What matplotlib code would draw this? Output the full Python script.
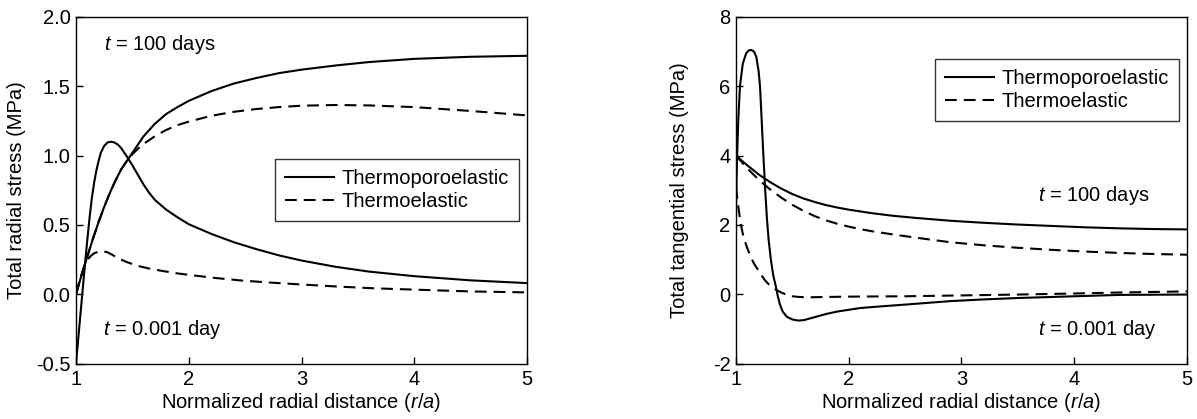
import matplotlib
matplotlib.use("Agg")
import matplotlib.pyplot as plt

plt.rcParams['font.family'] = ['Liberation Sans', 'DejaVu Sans']
plt.rcParams['mathtext.fontset'] = 'custom'
plt.rcParams['mathtext.rm'] = 'Liberation Sans'
plt.rcParams['mathtext.it'] = 'Liberation Sans:italic'
plt.rcParams['axes.unicode_minus'] = False
plt.rcParams['lines.scale_dashes'] = False

# ---------------- Data: radial stress (left panel) ----------------
r_tpe100 = [1.0, 1.05, 1.1, 1.15, 1.2, 1.25, 1.3, 1.35, 1.4, 1.45, 1.5, 1.6, 1.7, 1.8, 1.9, 2.0, 2.2, 2.4, 2.6, 2.8, 3.0, 3.3, 3.6, 4.0, 4.5, 5.0]
s_tpe100 = [0.0, 0.14, 0.27, 0.40, 0.52, 0.63, 0.73, 0.82, 0.90, 0.96, 1.02, 1.14, 1.23, 1.30, 1.35, 1.395, 1.465, 1.52, 1.56, 1.595, 1.62, 1.65, 1.675, 1.698, 1.713, 1.72]

r_te100 = [1.0, 1.05, 1.1, 1.15, 1.2, 1.25, 1.3, 1.35, 1.4, 1.45, 1.5, 1.55, 1.6, 1.7, 1.8, 1.9, 2.0, 2.2, 2.4, 2.6, 2.8, 3.0, 3.3, 3.6, 4.0, 4.5, 5.0]
s_te100 = [0.0, 0.14, 0.27, 0.40, 0.52, 0.63, 0.73, 0.82, 0.90, 0.96, 1.01, 1.05, 1.085, 1.14, 1.185, 1.22, 1.245, 1.287, 1.316, 1.336, 1.35, 1.36, 1.365, 1.362, 1.35, 1.322, 1.29]

r_tpe001 = [1.0, 1.02, 1.04, 1.06, 1.08, 1.1, 1.12, 1.14, 1.16, 1.18, 1.2, 1.22, 1.25, 1.28, 1.31, 1.34, 1.37, 1.4, 1.45, 1.5, 1.55, 1.6, 1.65, 1.7, 1.8, 1.9, 2.0, 2.2, 2.4, 2.6, 2.8, 3.0, 3.3, 3.6, 4.0, 4.5, 5.0]
s_tpe001 = [-0.5, -0.32, -0.14, 0.04, 0.22, 0.39, 0.55, 0.69, 0.80, 0.89, 0.96, 1.02, 1.07, 1.095, 1.10, 1.095, 1.08, 1.055, 0.995, 0.93, 0.86, 0.79, 0.73, 0.68, 0.61, 0.555, 0.505, 0.435, 0.375, 0.325, 0.28, 0.243, 0.198, 0.163, 0.13, 0.10, 0.08]

r_te001 = [1.0, 1.03, 1.06, 1.08, 1.1, 1.13, 1.16, 1.2, 1.24, 1.28, 1.32, 1.36, 1.4, 1.45, 1.5, 1.57, 1.65, 1.75, 1.9, 2.0, 2.2, 2.45, 2.7, 3.0, 3.3, 3.63, 4.0, 4.5, 5.0]
s_te001 = [0.0, 0.09, 0.17, 0.215, 0.245, 0.275, 0.295, 0.307, 0.31, 0.302, 0.285, 0.265, 0.25, 0.232, 0.218, 0.20, 0.185, 0.17, 0.15, 0.14, 0.12, 0.10, 0.085, 0.07, 0.056, 0.043, 0.033, 0.02, 0.013]

# ---------------- Data: tangential stress (right panel) ----------------
t_tpe100_x = [1.0, 1.1, 1.2, 1.3, 1.4, 1.5, 1.6, 1.7, 1.8, 1.9, 2.0, 2.2, 2.4, 2.6, 2.9, 3.2, 3.5, 3.8, 4.1, 4.41, 4.7, 5.0]
t_tpe100_y = [4.0, 3.72, 3.46, 3.24, 3.05, 2.89, 2.76, 2.66, 2.57, 2.50, 2.44, 2.34, 2.26, 2.20, 2.12, 2.06, 2.01, 1.97, 1.93, 1.90, 1.88, 1.87]

t_te100_x = [1.0, 1.1, 1.2, 1.3, 1.4, 1.5, 1.6, 1.7, 1.8, 1.9, 2.0, 2.1, 2.2, 2.4, 2.6, 2.9, 3.2, 3.5, 3.8, 4.1, 4.41, 4.7, 5.0]
t_te100_y = [4.0, 3.63, 3.31, 3.03, 2.79, 2.58, 2.40, 2.25, 2.13, 2.03, 1.95, 1.88, 1.82, 1.72, 1.63, 1.50, 1.41, 1.34, 1.28, 1.23, 1.19, 1.16, 1.14]

t_tpe001_x = [1.0, 1.005, 1.01, 1.02, 1.035, 1.06, 1.09, 1.11, 1.135, 1.16, 1.18, 1.2, 1.213, 1.228, 1.243, 1.26, 1.275, 1.29, 1.31, 1.33, 1.355, 1.37, 1.39, 1.414, 1.45, 1.5, 1.55, 1.6, 1.7, 1.8, 1.9, 2.0, 2.1, 2.25, 2.5, 2.9, 3.2, 3.5, 4.0, 4.41, 5.0]
t_tpe001_y = [2.3, 3.3, 4.0, 5.0, 6.0, 6.65, 6.95, 7.03, 7.05, 7.0, 6.85, 6.45, 6.0, 5.0, 4.0, 2.95, 2.15, 1.55, 0.98, 0.55, 0.2, -0.05, -0.3, -0.5, -0.65, -0.73, -0.76, -0.75, -0.66, -0.57, -0.50, -0.45, -0.40, -0.36, -0.30, -0.20, -0.15, -0.11, -0.06, -0.02, -0.01]

t_te001_x = [1.0, 1.01, 1.02, 1.03, 1.044, 1.06, 1.08, 1.1, 1.13, 1.16, 1.2, 1.25, 1.28, 1.3, 1.355, 1.4, 1.45, 1.5, 1.56, 1.65, 1.8, 2.0, 2.5, 2.9, 3.5, 4.0, 4.41, 5.0]
t_te001_y = [3.1, 2.8, 2.55, 2.3, 2.0, 1.75, 1.52, 1.33, 1.08, 0.88, 0.68, 0.43, 0.32, 0.26, 0.13, 0.05, -0.02, -0.06, -0.08, -0.09, -0.08, -0.07, -0.06, -0.04, -0.01, 0.02, 0.05, 0.08]

series_labels = ["Thermoporoelastic", "Thermoelastic"]

FS = 14.5
LW = 1.5
DASH = (0, (8.5, 5.0))

fig = plt.figure(figsize=(11.97, 4.19), dpi=100)
ax1 = fig.add_axes([76/1197, 55.5/419, 451/1197, 346.5/419])
ax2 = fig.add_axes([736/1197, 55.5/419, 451/1197, 346.5/419])

# Left panel
l1, = ax1.plot(r_tpe100, s_tpe100, color='black', lw=LW, label=series_labels[0])
l2, = ax1.plot(r_te100, s_te100, color='black', lw=LW, linestyle=DASH, label=series_labels[1])
ax1.plot(r_tpe001, s_tpe001, color='black', lw=LW)
ax1.plot(r_te001, s_te001, color='black', lw=LW, linestyle=DASH)
ax1.set_xlim(1, 5)
ax1.set_ylim(-0.5, 2.0)
ax1.set_xticks([1, 2, 3, 4, 5])
ax1.set_yticks([-0.5, 0.0, 0.5, 1.0, 1.5, 2.0])
ax1.set_yticklabels(["-0.5", "0.0", "0.5", "1.0", "1.5", "2.0"])
ax1.set_xlabel("Normalized radial distance ($\\it{r/a}$)", fontsize=FS, labelpad=1)
ax1.set_ylabel("Total radial stress (MPa)", fontsize=FS)
ax1.yaxis.set_label_coords(-0.111, 0.5)
ax1.text(1.248, 1.762, "$t$ = 100 days", fontsize=FS, va='baseline', ha='left')
ax1.text(1.24, -0.294, "$t$ = 0.001 day", fontsize=FS, va='baseline', ha='left')
ax1.legend(handles=[l1, l2], loc='upper right', bbox_to_anchor=(0.982, 0.590),
           borderaxespad=0, fontsize=FS, frameon=True, fancybox=False,
           edgecolor='black', handlelength=2.45, handletextpad=0.35,
           borderpad=0.5, labelspacing=0.2).get_frame().set_linewidth(1.0)

# Right panel
m1, = ax2.plot(t_tpe100_x, t_tpe100_y, color='black', lw=LW, label=series_labels[0])
m2, = ax2.plot(t_te100_x, t_te100_y, color='black', lw=LW, linestyle=DASH, label=series_labels[1])
ax2.plot(t_tpe001_x, t_tpe001_y, color='black', lw=LW)
ax2.plot(t_te001_x, t_te001_y, color='black', lw=LW, linestyle=DASH)
ax2.set_xlim(1, 5)
ax2.set_ylim(-2, 8)
ax2.set_xticks([1, 2, 3, 4, 5])
ax2.set_yticks([-2, 0, 2, 4, 6, 8])
ax2.set_xlabel("Normalized radial distance ($\\it{r/a}$)", fontsize=FS, labelpad=1)
ax2.set_ylabel("Total tangential stress (MPa)", fontsize=FS)
ax2.yaxis.set_label_coords(-0.104, 0.5)
ax2.text(3.68, 2.69, "$t$ = 100 days", fontsize=FS, va='baseline', ha='left')
ax2.text(3.68, -1.17, "$t$ = 0.001 day", fontsize=FS, va='baseline', ha='left')
ax2.legend(handles=[m1, m2], loc='upper right', bbox_to_anchor=(0.982, 0.879),
           borderaxespad=0, fontsize=FS, frameon=True, fancybox=False,
           edgecolor='black', handlelength=2.45, handletextpad=0.35,
           borderpad=0.5, labelspacing=0.2).get_frame().set_linewidth(1.0)

for ax in (ax1, ax2):
    ax.tick_params(axis='both', which='major', direction='in', length=5,
                   width=1.0, labelsize=FS, top=False, right=False)
    ax.tick_params(axis='x', pad=5)
    ax.tick_params(axis='y', pad=4)
    for sp in ax.spines.values():
        sp.set_linewidth(1.0)

fig.savefig("out.png", dpi=100)
